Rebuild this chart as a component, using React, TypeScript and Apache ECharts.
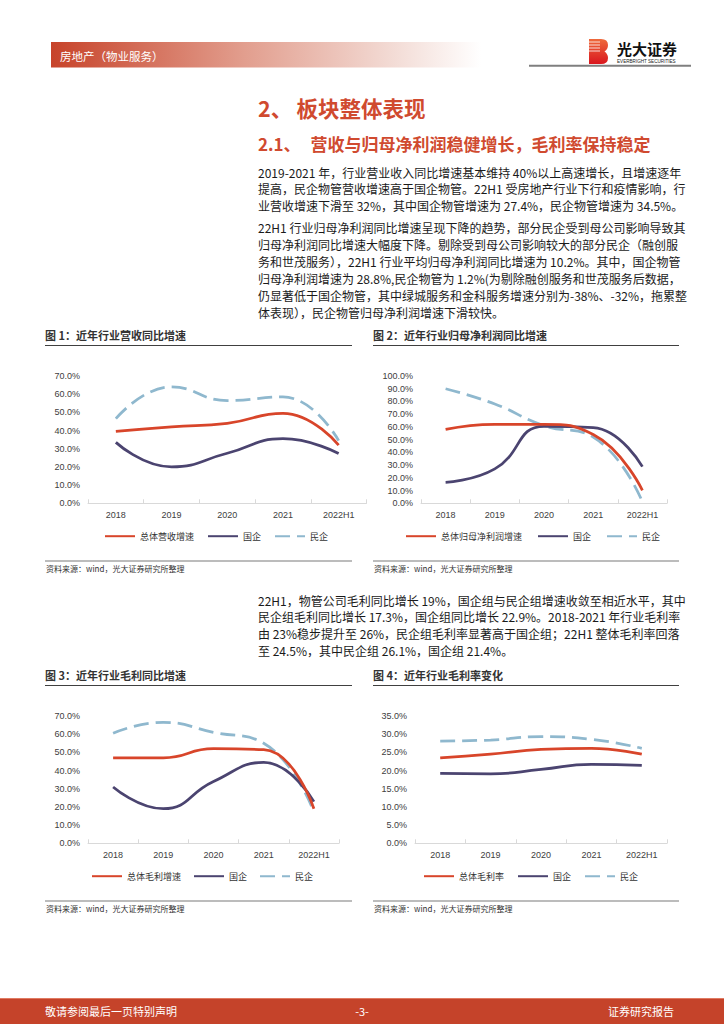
import React, { useEffect, useRef } from 'react';
import * as echarts from 'echarts';

const categories = ['2018', '2019', '2020', '2021', '2022H1'];

const revTotal = [39.5, 42, 44, 49.5, 32];
const revSOE = [33.5, 20, 27.5, 35.5, 27.4];
const revPrivate = [46.5, 64, 56.5, 58.5, 34.5];

const profitTotal = [58, 62, 62, 54, 10.2];
const profitSOE = [16.5, 27, 60.5, 59.5, 28.8];
const profitPrivate = [90, 78, 61, 52, 1.2];

const grossTotal = [47, 47, 52, 51.5, 19];
const grossSOE = [31, 19, 34, 44.5, 22.9];
const grossPrivate = [60.5, 66.5, 61, 55, 17.3];

const marginTotal = [23.5, 24.5, 25.8, 26.1, 24.5];
const marginSOE = [19.2, 19.1, 20.3, 21.7, 21.4];
const marginPrivate = [28.1, 28.4, 29.3, 28.6, 26.1];

const chartTitles = [
  '图 1：近年行业营收同比增速',
  '图 2：近年行业归母净利润同比增速',
  '图 3：近年行业毛利同比增速',
  '图 4：近年行业毛利率变化',
];
const totalNames = ['总体营收增速', '总体归母净利润增速', '总体毛利增速', '总体毛利率'];
const soeName = '国企';
const privateName = '民企';
const yMax = [70, 100, 70, 35];
const yInterval = [10, 10, 10, 5];
const sourceText = '资料来源：wind，光大证券研究所整理';

const para1 = [
  '2019-2021 年，行业营业收入同比增速基本维持 40%以上高速增长，且增速逐年',
  '提高，民企物管营收增速高于国企物管。22H1 受房地产行业下行和疫情影响，行',
  '业营收增速下滑至 32%，其中国企物管增速为 27.4%，民企物管增速为 34.5%。',
];
const para2 = [
  '22H1 行业归母净利润同比增速呈现下降的趋势，部分民企受到母公司影响导致其',
  '归母净利润同比增速大幅度下降。剔除受到母公司影响较大的部分民企（融创服',
  '务和世茂服务），22H1 行业平均归母净利润同比增速为 10.2%。其中，国企物管',
  '归母净利润增速为 28.8%,民企物管为 1.2%(为剔除融创服务和世茂服务后数据，',
  '仍显著低于国企物管，其中绿城服务和金科服务增速分别为-38%、-32%，拖累整',
  '体表现），民企物管归母净利润增速下滑较快。',
];
const para3 = [
  '22H1，物管公司毛利同比增长 19%，国企组与民企组增速收敛至相近水平，其中',
  '民企组毛利同比增长 17.3%，国企组同比增长 22.9%。2018-2021 年行业毛利率',
  '由 23%稳步提升至 26%，民企组毛利率显著高于国企组；22H1 整体毛利率回落',
  '至 24.5%，其中民企组 26.1%，国企组 21.4%。',
];

const RED = '#D8452A';
const PURPLE = '#4B4470';
const BLUE = '#8FB8CE';
const CJK = '"Noto Sans CJK SC", "Noto Sans", sans-serif';
const LAT = '"Liberation Sans", "Noto Sans CJK SC", sans-serif';

const logoD =
  'M0 0 H12 Q19 0 19 6 Q19 10 15.5 12.5 Q19 15 19 19 Q19 25 12 25 H0 Z';
echarts.graphic.registerShape('logo', echarts.graphic.extendPath(logoD, {}));

function txt(x: number, y: number, text: string, font: string, fill: string, align = 'left') {
  return {
    type: 'text',
    x,
    y,
    silent: true,
    style: {
      text,
      font,
      fill,
      align,
      textAlign: align,
      verticalAlign: 'middle',
      textVerticalAlign: 'middle',
    },
  };
}

function hline(x1: number, x2: number, y: number, stroke: string, w: number) {
  return {
    type: 'line',
    silent: true,
    shape: { x1, y1: y, x2, y2: y },
    style: { stroke, lineWidth: w },
  };
}

export default function App() {
  const ref = useRef<HTMLDivElement>(null);

  useEffect(() => {
    if (!ref.current) return;
    const chart = echarts.init(ref.current, undefined, { renderer: 'svg' });

    const grids = [
      { left: 88, top: 376, width: 278.5, height: 127.3 },
      { left: 421, top: 376, width: 246, height: 127.3 },
      { left: 88, top: 716, width: 251, height: 127.3 },
      { left: 415, top: 716, width: 252, height: 127.3 },
    ];
    const dataSets = [
      [revTotal, revSOE, revPrivate],
      [profitTotal, profitSOE, profitPrivate],
      [grossTotal, grossSOE, grossPrivate],
      [marginTotal, marginSOE, marginPrivate],
    ];
    const legendPos = [
      { left: 104, top: 531.7, gap: 13 },
      { left: 405, top: 531.7, gap: 15 },
      { left: 91, top: 871.7, gap: 12 },
      { left: 423, top: 871.7, gap: 13 },
    ];
    const panelX = [
      [45, 352],
      [373, 679],
      [45, 352],
      [373, 679],
    ];
    const panelY = [335, 335, 675, 675];

    const series: any[] = [];
    dataSets.forEach((ds, i) => {
      const names = [totalNames[i], soeName, privateName];
      const colors = [RED, PURPLE, BLUE];
      ds.forEach((d, k) => {
        series.push({
          type: 'line',
          name: names[k],
          xAxisIndex: i,
          yAxisIndex: i,
          data: d,
          smooth: 0.5,
          symbol: 'none',
          showSymbol: false,
          color: colors[k],
          lineStyle: {
            color: colors[k],
            width: 2.75,
            type: k === 2 ? [15, 7] : 'solid',
          },
          z: 3 - k,
        });
      });
    });

    const graphics: any[] = [];
    // header
    graphics.push({
      type: 'rect',
      silent: true,
      shape: { x: 51, y: 42, width: 430, height: 25.5 },
      style: {
        fill: new echarts.graphic.LinearGradient(0, 0, 1, 0, [
          { offset: 0, color: '#C7432A' },
          { offset: 0.45, color: '#E29E8E' },
          { offset: 0.8, color: '#F3DCD6' },
          { offset: 1, color: '#FFFFFF' },
        ]),
      },
    });
    graphics.push(txt(60, 56, '房地产（物业服务）', `11.5px ${CJK}`, '#FFFFFF'));
    // logo
    graphics.push({
      type: 'logo',
      silent: true,
      x: 589,
      y: 39,
      scaleX: 1,
      scaleY: 1,
      style: {
        fill: new echarts.graphic.LinearGradient(0, 0, 0, 1, [
          { offset: 0, color: '#EE6A3C' },
          { offset: 1, color: '#D9161E' },
        ]),
      },
    });
    [42, 45, 48, 51].forEach((yy) => graphics.push(hline(589, 600, yy, '#FFFFFF', 0.8)));
    graphics.push(txt(617, 48.5, '光大证券', `bold 15px ${CJK}`, '#111111'));
    graphics.push(txt(617, 61.3, 'EVERBRIGHT SECURITIES', `4.6px ${LAT}`, '#222222'));
    graphics.push(hline(529, 691, 65.7, '#7F7F7F', 2));

    // section titles
    graphics.push(txt(258, 107, '2、', `bold 21.5px ${CJK}`, '#D04A2F'));
    graphics.push(txt(296.5, 107, '板块整体表现', `bold 21.5px ${CJK}`, '#D04A2F'));
    graphics.push(txt(258, 143, '2.1、', `bold 17px ${CJK}`, '#D04A2F'));
    graphics.push(txt(310.5, 143, '营收与归母净利润稳健增长，毛利率保持稳定', `bold 17px ${CJK}`, '#D04A2F'));

    // paragraphs
    const bodyFont = `12px ${CJK}`;
    para1.forEach((l, i) => graphics.push(txt(258, 172 + i * 16.7, l, bodyFont, '#1A1A1A')));
    para2.forEach((l, i) => graphics.push(txt(258, 227 + i * 17, l, bodyFont, '#1A1A1A')));
    para3.forEach((l, i) => graphics.push(txt(258, 600 + i * 16.7, l, bodyFont, '#1A1A1A')));

    // chart panels
    for (let i = 0; i < 4; i++) {
      const [x1, x2] = panelX[i];
      const ty = panelY[i];
      graphics.push(txt(x1, ty, chartTitles[i], `bold 11px ${CJK}`, '#333333'));
      graphics.push(hline(x1, x2, ty + 10.5, '#404040', 1));
      graphics.push(hline(x1, x2, ty + 226, '#A6A6A6', 1.5));
      graphics.push(txt(x1 + 1, ty + 233.5, sourceText, `8px ${CJK}`, '#333333'));
    }

    // footer
    graphics.push({
      type: 'rect',
      silent: true,
      shape: { x: 0, y: 998, width: 724, height: 26 },
      style: { fill: '#C5432A' },
    });
    graphics.push(hline(0, 724, 998.5, '#E07A62', 1));
    graphics.push(txt(45, 1010.5, '敬请参阅最后一页特别声明', `11px ${CJK}`, '#FFFFFF'));
    graphics.push(txt(362, 1010.5, '-3-', `11px ${CJK}`, '#FFFFFF', 'center'));
    graphics.push(txt(608, 1010.5, '证券研究报告', `11px ${CJK}`, '#FFFFFF'));

    chart.setOption({
      animation: false,
      backgroundColor: '#FFFFFF',
      grid: grids.map((g) => ({ ...g, containLabel: false })),
      xAxis: grids.map((_, i) => ({
        type: 'category',
        gridIndex: i,
        data: categories,
        boundaryGap: true,
        axisLine: { show: true, lineStyle: { color: '#D9D9D9', width: 1 } },
        axisTick: { show: true, inside: true, length: 4, lineStyle: { color: '#D9D9D9' } },
        axisLabel: { fontSize: 9, fontFamily: LAT, color: '#404040', margin: 7 },
        splitLine: { show: false },
      })),
      yAxis: grids.map((_, i) => ({
        type: 'value',
        gridIndex: i,
        min: 0,
        max: yMax[i],
        interval: yInterval[i],
        axisLine: { show: false },
        axisTick: { show: false },
        splitLine: { show: false },
        axisLabel: {
          fontSize: 9,
          fontFamily: LAT,
          color: '#404040',
          margin: 8,
          formatter: (v: number) => v.toFixed(1) + '%',
        },
      })),
      legend: legendPos.map((p, i) => ({
        left: p.left,
        top: p.top,
        orient: 'horizontal',
        itemWidth: 30,
        itemHeight: 10,
        itemGap: p.gap,
        padding: 0,
        selectedMode: false,
        itemStyle: { opacity: 0, borderWidth: 0 },
        data: [totalNames[i], soeName, privateName],
        textStyle: { fontSize: 9, fontFamily: CJK, color: '#333333', padding: [0, 0, 0, 0] },
      })),
      series,
      graphic: { elements: graphics },
    });

    return () => {
      chart.dispose();
    };
  }, []);

  return (
    <div
      ref={ref}
      style={{ position: 'absolute', left: 0, top: 0, width: 724, height: 1024, background: '#FFFFFF' }}
    />
  );
}
